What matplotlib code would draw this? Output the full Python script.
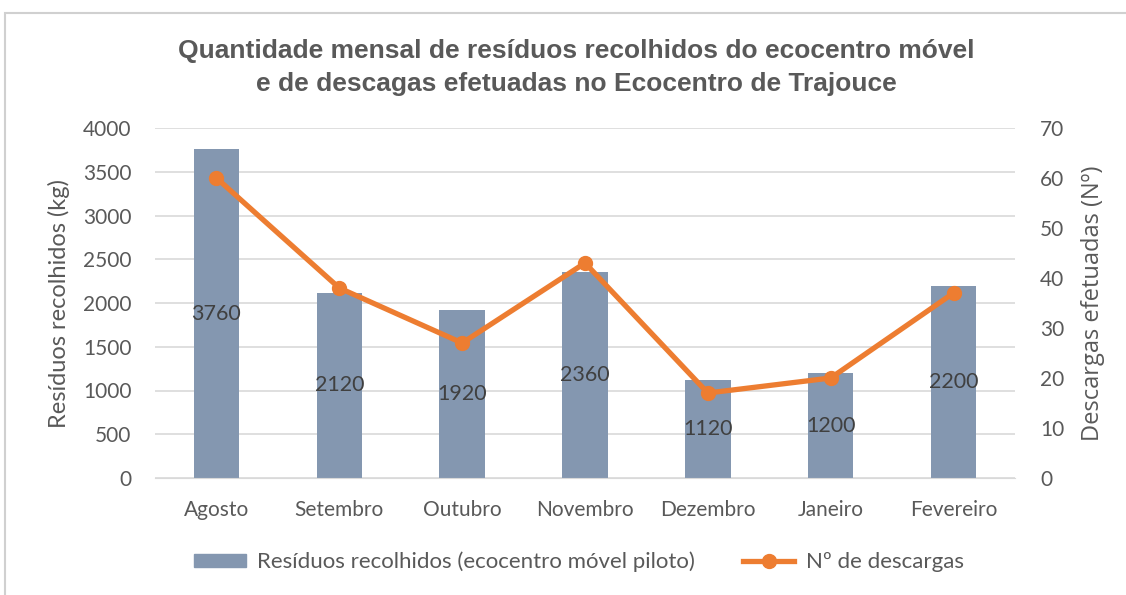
import matplotlib.pyplot as plt
from matplotlib.patches import Rectangle
from matplotlib.lines import Line2D
from matplotlib.patches import Patch
import numpy as np

# dados
meses = ['Agosto', 'Setembro', 'Outubro', 'Novembro', 'Dezembro', 'Janeiro', 'Fevereiro']
residuos = [3760, 2120, 1920, 2360, 1120, 1200, 2200]
descargas = [60, 38, 27, 43, 17, 20, 37]

bar_color = '#8497B0'
line_color = '#ED7D31'
text_color = '#595959'

plt.rcParams['font.family'] = ['Lato', 'DejaVu Sans']

fig = plt.figure(figsize=(11.26, 5.95), dpi=100)
ax = fig.add_axes([155/1126, 1-478/595, (1015-155)/1126, 350/595])
ax2 = ax.twinx()

x = np.arange(len(meses))
ax.bar(x, residuos, width=0.37, color=bar_color, zorder=2)
for xi, v in zip(x, residuos):
    ax.text(xi, v/2, str(v), ha='center', va='center', fontsize=15.5, color='#404040', zorder=3)

ax.set_ylim(0, 4000)
ax.set_yticks(range(0, 4001, 500))
ax.set_xlim(-0.5, len(meses)-0.5)
ax.set_xticks(x)
ax.set_xticklabels(meses)
ax.yaxis.grid(True, color='#D9D9D9', linewidth=1.2, zorder=0)
ax.set_axisbelow(True)

ax2.plot(x, descargas, color=line_color, linewidth=3.8, marker='o', markersize=10, zorder=4)
ax2.set_ylim(0, 70)
ax2.set_yticks(range(0, 71, 10))

for a in (ax, ax2):
    for s in a.spines.values():
        s.set_visible(False)
    a.tick_params(length=0, labelsize=15, colors=text_color)
ax.spines['bottom'].set_visible(True)
ax.spines['bottom'].set_color('#D9D9D9')
ax.tick_params(axis='x', pad=16)
ax.tick_params(axis='y', pad=17)
ax2.tick_params(axis='y', pad=18)

ax.set_ylabel('Resíduos recolhidos (kg)', fontsize=17, color=text_color, labelpad=9)
ax2.set_ylabel('Descargas efetuadas (Nº)', fontsize=17, color=text_color, labelpad=12,
               family=['Open Sans', 'DejaVu Sans'])

title_font = ['Liberation Sans', 'DejaVu Sans']
fig.text(576/1126, 1-51/595, 'Quantidade mensal de resíduos recolhidos do ecocentro móvel',
         ha='center', va='center', fontsize=19, fontweight='bold', color=text_color,
         family=title_font)
fig.text(576/1126, 1-84/595, 'e de descagas efetuadas no Ecocentro de Trajouce',
         ha='center', va='center', fontsize=19, fontweight='bold', color=text_color,
         family=title_font)

handles = [Patch(color=bar_color),
           Line2D([0], [0], color=line_color, linewidth=3.8, marker='o', markersize=10)]
fig.legend(handles, ['Resíduos recolhidos (ecocentro móvel piloto)', 'Nº de descargas'],
           loc='center', bbox_to_anchor=(579/1126, 1-562/595), ncol=2, frameon=False,
           fontsize=16, labelcolor=text_color, columnspacing=2.2, handlelength=2.3,
           handletextpad=0.5, handleheight=0.5)

fig.patches.append(Rectangle((5/1126, -0.1), 1.2, 1-13/595+0.1, transform=fig.transFigure,
                             fill=False, edgecolor='#D0D0D0', linewidth=1.5))

fig.savefig('out.png', dpi=100)
